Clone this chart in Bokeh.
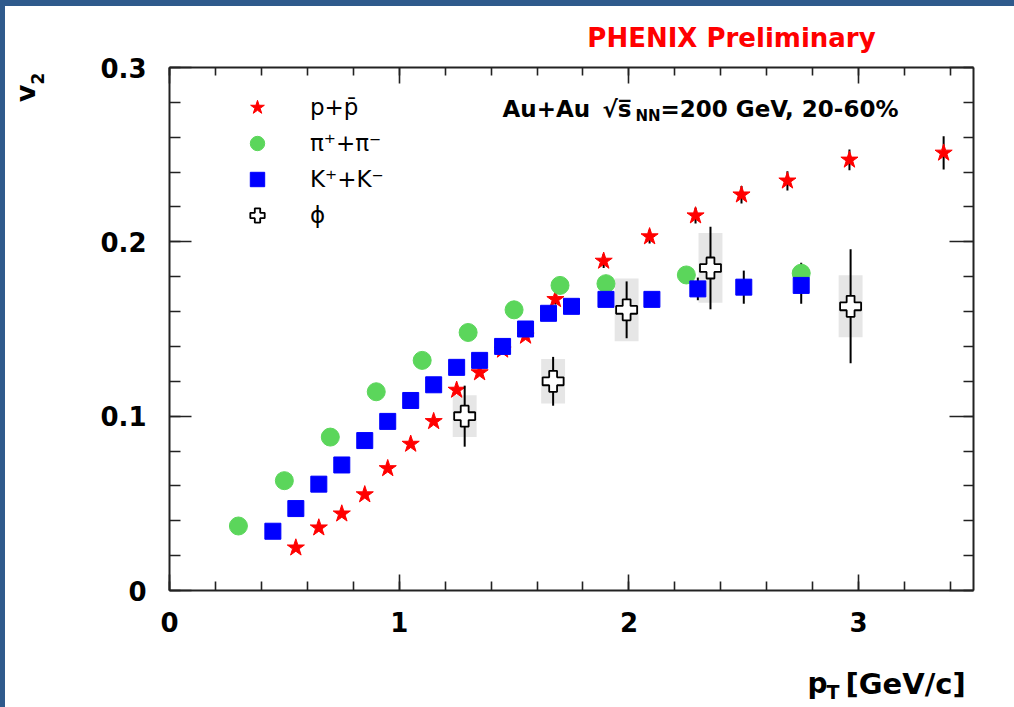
from math import pi
from bokeh.plotting import figure
from bokeh.models import (LinearAxis, FixedTicker, Label, Legend, LegendItem,
                          Range1d, ColumnDataSource, CustomJSTickFormatter)
from bokeh.embed import file_html
from bokeh.resources import INLINE

# ---------------- data ----------------
proton_pt = [0.55, 0.65, 0.75, 0.85, 0.95, 1.05, 1.15, 1.25, 1.35, 1.45, 1.55, 1.68,
             1.89, 2.09, 2.29, 2.49, 2.69, 2.96, 3.37]
proton_v2 = [0.0245, 0.036, 0.044, 0.055, 0.070, 0.084, 0.097, 0.115, 0.125, 0.138, 0.146, 0.167,
             0.189, 0.203, 0.215, 0.227, 0.235, 0.247, 0.251]
proton_err = [0.002, 0.002, 0.002, 0.002, 0.002, 0.002, 0.002, 0.002, 0.002, 0.002, 0.002, 0.003,
              0.004, 0.004, 0.0045, 0.005, 0.0055, 0.006, 0.0095]

pion_pt = [0.3, 0.5, 0.7, 0.9, 1.1, 1.3, 1.5, 1.7, 1.9, 2.25, 2.75]
pion_v2 = [0.037, 0.063, 0.088, 0.114, 0.132, 0.148, 0.161, 0.175, 0.176, 0.181, 0.182]
pion_err = [0.001, 0.001, 0.001, 0.001, 0.001, 0.0015, 0.002, 0.002, 0.003, 0.004, 0.006]

kaon_pt = [0.45, 0.55, 0.65, 0.75, 0.85, 0.95, 1.05, 1.15, 1.25, 1.35, 1.45, 1.55, 1.65, 1.75,
           1.9, 2.1, 2.3, 2.5, 2.75]
kaon_v2 = [0.034, 0.047, 0.061, 0.072, 0.086, 0.097, 0.109, 0.118, 0.128, 0.132, 0.140, 0.150,
           0.159, 0.163, 0.167, 0.167, 0.173, 0.174, 0.175]
kaon_err = [0.001, 0.001, 0.001, 0.001, 0.001, 0.001, 0.001, 0.002, 0.002, 0.002, 0.002, 0.002,
            0.002, 0.002, 0.003, 0.004, 0.0065, 0.0095, 0.0105]

phi_pt = [1.285, 1.67, 1.99, 2.355, 2.965]
phi_v2 = [0.100, 0.120, 0.161, 0.185, 0.163]
phi_stat = [0.0175, 0.014, 0.0163, 0.0237, 0.0327]
phi_sys = [0.012, 0.0128, 0.018, 0.020, 0.0178]

x_ticks = [0, 1, 2, 3]
y_ticks = [0, 0.1, 0.2, 0.3]
x_minor = [0.2 * i for i in range(18)]
y_minor = [0.02 * i for i in range(16)]

legend_labels = ["p+p\u0304", "\u03c0\u207a+\u03c0\u207b", "K\u207a+K\u207b", "\u03d5"]

# ---------------- styling ----------------
FONT = "DejaVu Sans"
AX = "#222222"
RED = "#ff0000"
GREEN = "#5bd65b"
BLUE = "#0000ff"
BOX_HW = 0.052

def src(x, y, e):
    return ColumnDataSource(dict(x=x, y=y,
                                 lo=[a - b for a, b in zip(y, e)],
                                 hi=[a + b for a, b in zip(y, e)]))

p = figure(frame_width=804, frame_height=523,
           x_range=Range1d(0, 3.5), y_range=Range1d(0, 0.3),
           output_backend="svg", toolbar_location=None,
           min_border_left=164, min_border_right=41, min_border_top=61, min_border_bottom=117,
           background_fill_color="white", border_fill_color="white")
p.outline_line_color = None
p.grid.visible = False
p.styles = {"border-top": "6px solid #2f5a8c", "border-left": "5px solid #2f5a8c"}

xt = FixedTicker(ticks=x_ticks, minor_ticks=x_minor)
yt = FixedTicker(ticks=y_ticks, minor_ticks=y_minor)

def style_axis(ax, major_in, minor_in, labels, standoff=0):
    ax.major_tick_in = major_in
    ax.major_tick_out = 0
    ax.minor_tick_in = minor_in
    ax.minor_tick_out = 0
    ax.major_tick_line_color = AX
    ax.minor_tick_line_color = AX
    ax.major_tick_line_width = 1.6
    ax.minor_tick_line_width = 1.6
    ax.axis_line_color = AX
    ax.axis_line_width = 2
    if labels:
        ax.major_label_text_font = FONT
        ax.major_label_text_font_style = "bold"
        ax.major_label_text_font_size = "26px"
        ax.major_label_text_color = "black"
        ax.major_label_standoff = standoff
    else:
        ax.formatter = CustomJSTickFormatter(code="return ''")
        ax.major_label_standoff = 0

xa = p.xaxis[0]
xa.ticker = xt
style_axis(xa, 16, 9, True, 21)
ya = p.yaxis[0]
ya.ticker = yt
style_axis(ya, 22, 11, True, 23)

top_ax = LinearAxis(ticker=xt)
style_axis(top_ax, 16, 8, False)
p.add_layout(top_ax, "above")
right_ax = LinearAxis(ticker=yt)
style_axis(right_ax, 24, 10, False)
p.add_layout(right_ax, "right")

# ---------------- data glyphs ----------------
sp = src(proton_pt, proton_v2, proton_err)
sk = src(kaon_pt, kaon_v2, kaon_err)
spi = src(pion_pt, pion_v2, pion_err)
sphi = src(phi_pt, phi_v2, phi_stat)
sphi_sys = ColumnDataSource(dict(
    left=[x - BOX_HW for x in phi_pt], right=[x + BOX_HW for x in phi_pt],
    bottom=[y - s for y, s in zip(phi_v2, phi_sys)], top=[y + s for y, s in zip(phi_v2, phi_sys)]))

p.quad(left="left", right="right", bottom="bottom", top="top", source=sphi_sys,
       fill_color="#e6e6e6", line_color=None)

for s in (sp, spi, sk):
    p.segment(x0="x", y0="lo", x1="x", y1="hi", source=s, line_color="black", line_width=2)

r_p = p.scatter("x", "y", source=sp, marker="star", size=18, fill_color=RED, line_color=RED)
r_pi = p.scatter("x", "y", source=spi, marker="circle", size=18, fill_color=GREEN, line_color=GREEN)
r_k = p.scatter("x", "y", source=sk, marker="square", size=16, fill_color=BLUE, line_color=BLUE)

p.segment(x0="x", y0="lo", x1="x", y1="hi", source=sphi, line_color="black", line_width=2)
r_phi = p.scatter("x", "y", source=sphi, marker="plus", size=21, fill_color="white",
                  line_color="black", line_width=1.8)

# ---------------- legend ----------------
legend = Legend(items=[LegendItem(label=legend_labels[0], renderers=[r_p]),
                       LegendItem(label=legend_labels[1], renderers=[r_pi]),
                       LegendItem(label=legend_labels[2], renderers=[r_k]),
                       LegendItem(label=legend_labels[3], renderers=[r_phi])],
                location=(70, 357))
legend.glyph_width = 36
legend.glyph_height = 36
legend.label_height = 36
legend.spacing = 0
legend.label_standoff = 35
legend.padding = 0
legend.margin = 0
legend.border_line_color = None
legend.background_fill_alpha = 0
legend.label_text_font = FONT
legend.label_text_font_size = "23px"
legend.label_text_color = "black"
p.add_layout(legend)

# ---------------- texts ----------------
def lab(text, x, y, size, units="screen", place="center", color="black", align="left",
        baseline="alphabetic", angle=0, bold=True):
    p.add_layout(Label(text=text, x=x, y=y, x_units=units, y_units=units,
                       text_font=FONT, text_font_size=f"{size}px",
                       text_font_style="bold" if bold else "normal",
                       text_color=color, text_align=align, text_baseline=baseline,
                       angle=angle), place)

# inside the frame: screen units (x from frame left, y up from frame bottom)
lab("Au+Au", 333, 482, 23)
lab("\u221as\u0305", 433, 482, 23)
lab("NN", 466, 475, 15)
lab("=200 GeV, 20-60%", 491, 482, 23)

# outside the frame: canvas units (from the canvas top-left), placed in side panels
lab("PHENIX Preliminary", 721, 25, 26, units="canvas", place="above", color=RED, align="center")
lab("v", 15, 81, 27, units="canvas", place="left", align="center", baseline="middle", angle=pi / 2)
lab("2", 27, 66, 17, units="canvas", place="left", align="center", baseline="middle", angle=pi / 2)
lab("p", 797, 671, 28, units="canvas", place="below")
lab("T", 816, 679, 19, units="canvas", place="below")
lab("[GeV/c]", 835, 671, 29, units="canvas", place="below")

open("out.html", "w").write(file_html(p, INLINE))
